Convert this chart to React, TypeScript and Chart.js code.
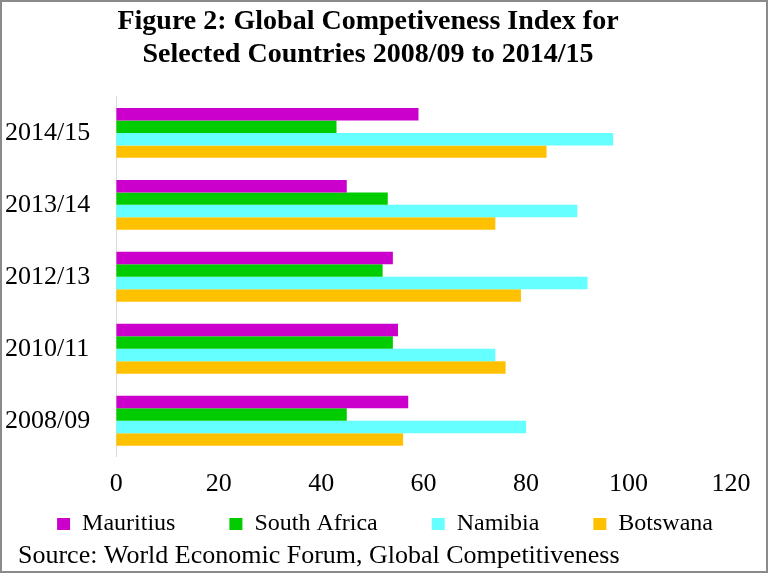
import React, { useEffect, useRef } from "react";
import { Chart, registerables } from "chart.js";

Chart.register(...registerables);

const categories = ["2014/15", "2013/14", "2012/13", "2010/11", "2008/09"];
const seriesNames = ["Mauritius", "South Africa", "Namibia", "Botswana"];
const mauritius = [59, 45, 54, 55, 57];
const southAfrica = [43, 53, 52, 54, 45];
const namibia = [97, 90, 92, 74, 80];
const botswana = [84, 74, 79, 76, 56];
const seriesColors = ["#CC00CC", "#00CC00", "#66FFFF", "#FFC000"];
const titleLines = [
  "Figure 2: Global Competiveness Index for",
  "Selected Countries 2008/09 to 2014/15",
];
const sourceText = "Source: World Economic Forum, Global Competitiveness";
const xMin = 0;
const xMax = 120;
const xStep = 20;

const FONT = "'Liberation Serif', 'Times New Roman', serif";

export default function App() {
  const ref = useRef<HTMLCanvasElement | null>(null);

  useEffect(() => {
    if (!ref.current) return;
    const values = [mauritius, southAfrica, namibia, botswana];
    // trailing spacing (in space characters) to spread legend items like the original
    const legendGaps = [9, 9, 9, 3];
    const chart = new Chart(ref.current, {
      type: "bar",
      data: {
        labels: categories,
        datasets: seriesNames.map((name, i) => ({
          label: name,
          data: values[i],
          backgroundColor: seriesColors[i],
          borderWidth: 0,
          barPercentage: 1,
          categoryPercentage: 0.694,
        })),
      },
      options: {
        indexAxis: "y",
        responsive: false,
        animation: false,
        layout: { padding: { left: 3, right: 35, top: 0, bottom: 0 } },
        plugins: {
          tooltip: { enabled: false },
          title: {
            display: true,
            text: titleLines,
            color: "#000",
            font: { family: FONT, size: 28, weight: "bold", lineHeight: 1.15 },
            padding: { top: 4, bottom: 26.5 },
          },
          subtitle: {
            display: true,
            position: "bottom",
            align: "start",
            text: "  " + sourceText,
            color: "#000",
            font: { family: FONT, size: 26, lineHeight: 0.77 },
            padding: { top: 0, bottom: 5 },
          },
          legend: {
            display: true,
            position: "bottom",
            align: "end",
            labels: {
              color: "#000",
              font: { family: FONT, size: 24 },
              boxWidth: 13,
              boxHeight: 12,
              padding: 0,
              generateLabels: (c: any) => {
                const items = Chart.defaults.plugins.legend.labels.generateLabels(c);
                return items.map((it: any, i: number) => ({
                  ...it,
                  text: it.text + " ".repeat(legendGaps[i] || 0),
                  lineWidth: 0,
                }));
              },
            },
          },
        },
        scales: {
          x: {
            min: xMin,
            max: xMax,
            ticks: {
              stepSize: xStep,
              color: "#000",
              font: { family: FONT, size: 26 },
              padding: 12,
            },
            grid: { display: false, drawTicks: false },
            border: { display: false },
          },
          y: {
            ticks: {
              color: "#000",
              font: { family: FONT, size: 26 },
              padding: 13,
              crossAlign: "far",
            },
            grid: { display: false, drawTicks: false },
            border: { display: true, color: "#d9d9d9", width: 1 },
          },
        },
      },
    });
    return () => chart.destroy();
  }, []);

  return (
    <div
      style={{
        position: "fixed",
        left: 0,
        top: 0,
        width: 768,
        height: 573,
        boxSizing: "border-box",
        border: "2px solid #8a8a8a",
        background: "#fff",
      }}
    >
      <canvas ref={ref} width={764} height={569} style={{ display: "block" }} />
    </div>
  );
}
